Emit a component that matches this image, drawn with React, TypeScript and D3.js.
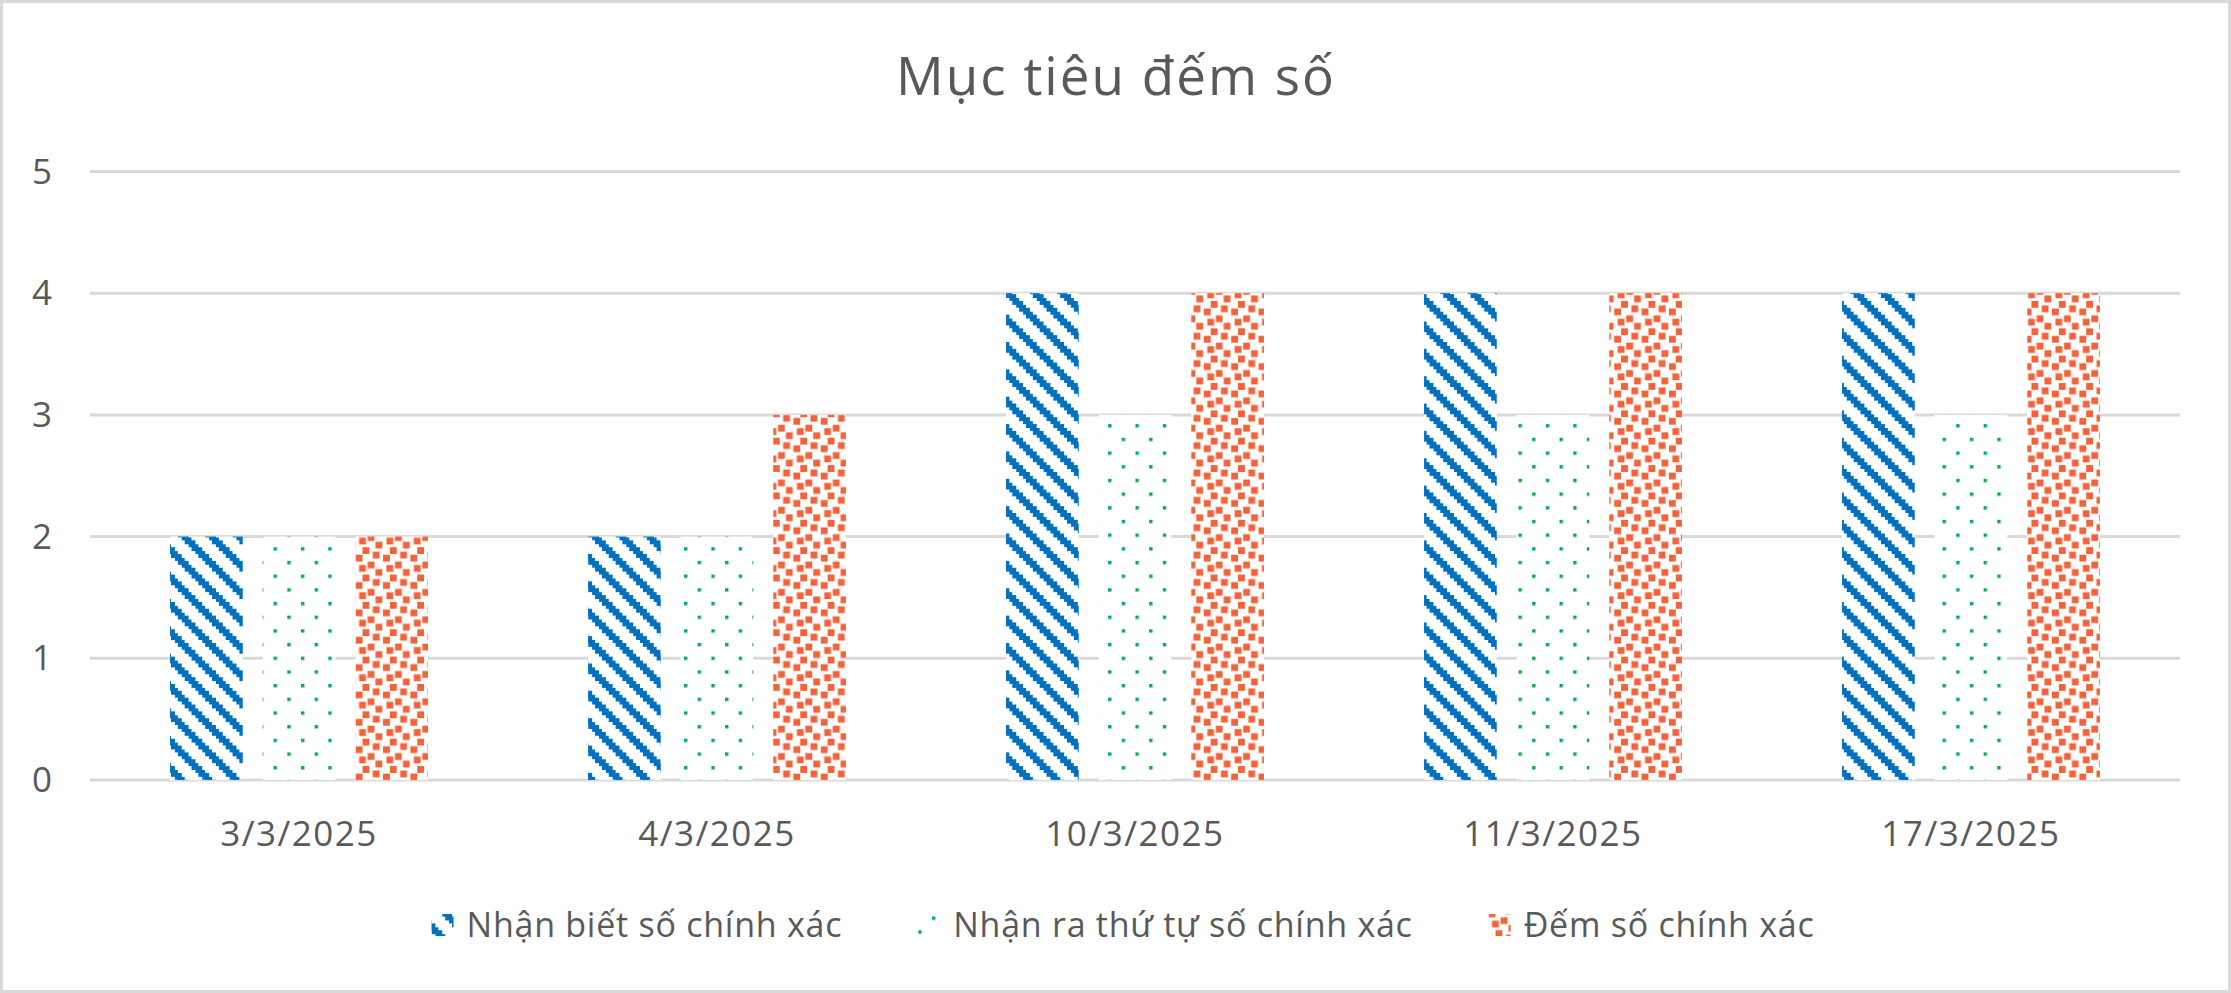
import { useEffect, useRef } from "react";
import * as d3 from "d3";

// chart data
const title = "Mục tiêu đếm số";
const categories = ["3/3/2025", "4/3/2025", "10/3/2025", "11/3/2025", "17/3/2025"];
const seriesNames = ["Nhận biết số chính xác", "Nhận ra thứ tự số chính xác", "Đếm số chính xác"];
const recognizeValues = [2, 2, 4, 4, 4];
const orderValues = [2, 2, 3, 3, 3];
const countValues = [2, 3, 4, 4, 4];
const yTicks = [0, 1, 2, 3, 4, 5];

const seriesValues = [recognizeValues, orderValues, countValues];
const seriesColors = ["#0070C0", "#00B050", "#F4623A"];
const patternIds = ["pat-diag", "pat-dots", "pat-confetti"];

const W = 2231;
const H = 993;
const FONT = "'Open Sans', sans-serif";
const TEXT = "#595959";
const GRID = "#D9D9D9";
const U = 3.42; // size of one pattern "pixel"

export default function App() {
    const ref = useRef<SVGSVGElement>(null);

    useEffect(() => {
        document.body.style.margin = "0";
        const svg = d3.select(ref.current);
        svg.selectAll("*").remove();

        // fill patterns (Excel-like 8x8 pattern fills)
        const defs = svg.append("defs");
        const mkPattern = (id: string) =>
            defs.append("pattern")
                .attr("id", id)
                .attr("patternUnits", "userSpaceOnUse")
                .attr("width", 8 * U)
                .attr("height", 8 * U);

        const diag = mkPattern(patternIds[0]);
        diag.append("rect").attr("width", 8 * U).attr("height", 8 * U).attr("fill", "white");
        d3.range(8).forEach((r) => {
            [r, r - 8].forEach((c) => {
                diag.append("rect")
                    .attr("x", c * U).attr("y", r * U)
                    .attr("width", 3 * U).attr("height", U)
                    .attr("fill", seriesColors[0])
                    .attr("shape-rendering", "crispEdges");
            });
        });

        const dots = mkPattern(patternIds[1]);
        dots.append("rect").attr("width", 8 * U).attr("height", 8 * U).attr("fill", "white");
        [[0, 0], [4, 4]].forEach(([c, r]) => {
            dots.append("rect")
                .attr("x", c * U).attr("y", r * U)
                .attr("width", U).attr("height", U)
                .attr("fill", seriesColors[1]);
        });

        const conf = mkPattern(patternIds[2]);
        conf.append("rect").attr("width", 8 * U).attr("height", 8 * U).attr("fill", "white");
        [[2, 0], [5, 1.3], [0, 2.2], [3.5, 4.2], [1, 5.2], [5.8, 6.4]].forEach(([c, r]) => {
            [0, -8].forEach((dx) => [0, -8].forEach((dy) => {
                conf.append("rect")
                    .attr("x", (c + dx) * U).attr("y", (r + dy) * U)
                    .attr("width", 2 * U).attr("height", 2 * U)
                    .attr("fill", seriesColors[2]);
            }));
        });

        // background + border
        svg.append("rect")
            .attr("x", 1.5).attr("y", 1.5)
            .attr("width", W - 3).attr("height", H - 3)
            .attr("fill", "white")
            .attr("stroke", GRID)
            .attr("stroke-width", 3);

        // scales
        const x0 = d3.scaleBand()
            .domain(categories)
            .range([90, 2180])
            .paddingInner(0.383)
            .paddingOuter(0.1915);
        const x1 = d3.scaleBand()
            .domain(seriesNames)
            .range([0, x0.bandwidth()])
            .paddingInner(0.215);
        const y = d3.scaleLinear().domain([0, 5]).range([780, 171.5]);

        // gridlines
        svg.append("g")
            .selectAll("line")
            .data(yTicks)
            .enter()
            .append("line")
                .attr("x1", 90).attr("x2", 2180)
                .attr("y1", (d) => y(d)).attr("y2", (d) => y(d))
                .attr("stroke", GRID)
                .attr("stroke-width", 3);

        // y tick labels
        svg.append("g")
            .selectAll("text")
            .data(yTicks)
            .enter()
            .append("text")
                .attr("x", 52)
                .attr("y", (d) => y(d) + 12)
                .attr("text-anchor", "end")
                .attr("font-family", FONT)
                .attr("font-size", 35)
                .attr("fill", TEXT)
                .text((d) => d);

        // bars
        seriesNames.forEach((name, si) => {
            svg.append("g")
                .selectAll("rect")
                .data(categories.map((c, i) => ({ c, v: seriesValues[si][i] })))
                .enter()
                .append("rect")
                    .attr("x", (d) => (x0(d.c) as number) + (x1(name) as number))
                    .attr("y", (d) => y(d.v))
                    .attr("width", x1.bandwidth())
                    .attr("height", (d) => y(0) - y(d.v))
                    .attr("fill", `url(#${patternIds[si]})`);
        });

        // category labels
        svg.append("g")
            .selectAll("text")
            .data(categories)
            .enter()
            .append("text")
                .attr("x", (d) => (x0(d) as number) + x0.bandwidth() / 2)
                .attr("y", 846)
                .attr("text-anchor", "middle")
                .attr("font-family", FONT)
                .attr("font-size", 35)
                .attr("letter-spacing", 1.5)
                .attr("fill", TEXT)
                .text((d) => d);

        // title
        svg.append("text")
            .attr("x", 1116)
            .attr("y", 95)
            .attr("text-anchor", "middle")
            .attr("font-family", FONT)
            .attr("font-size", 53)
            .attr("letter-spacing", 2)
            .attr("fill", TEXT)
            .text(title);

        // legend
        const lg = svg.append("g");
        const items = seriesNames.map((name, i) => {
            const g = lg.append("g");
            g.append("rect")
                .attr("width", 22).attr("height", 22)
                .attr("y", 914)
                .attr("fill", `url(#${patternIds[i]})`);
            const t = g.append("text")
                .attr("x", 35)
                .attr("y", 937)
                .attr("font-family", FONT)
                .attr("font-size", 34)
                .attr("letter-spacing", 0.75)
                .attr("fill", TEXT)
                .text(name);
            const w = 35 + (t.node() as SVGTextElement).getComputedTextLength();
            return { g, w };
        });
        const gap = 76;
        const total = d3.sum(items, (d) => d.w) + gap * (items.length - 1);
        let cx = 1123 - total / 2;
        items.forEach(({ g, w }) => {
            g.attr("transform", `translate(${cx},0)`);
            cx += w + gap;
        });
    }, []);

    return <svg ref={ref} width={W} height={H} style={{ display: "block" }} />;
}
